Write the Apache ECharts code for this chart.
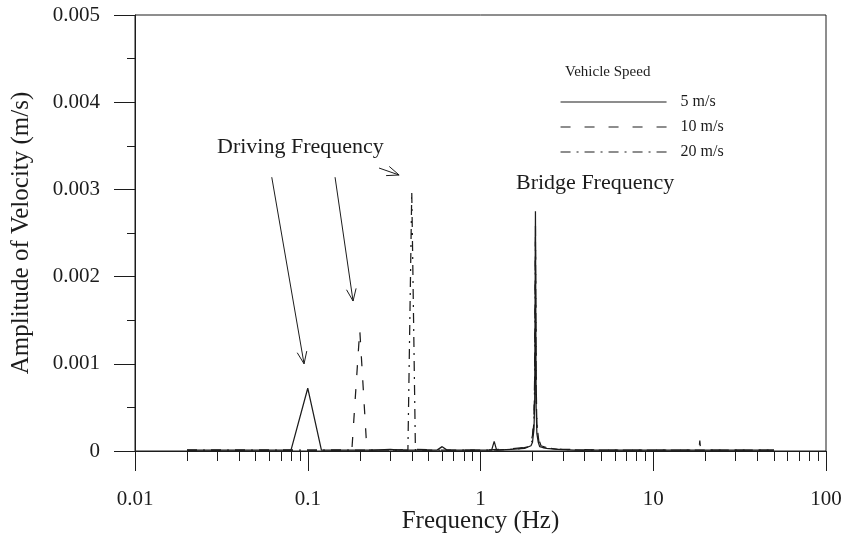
<!DOCTYPE html>
<html><head><meta charset="utf-8">
<script src="https://cdn.jsdelivr.net/npm/echarts@6/dist/echarts.min.js"></script>
<style>html,body{margin:0;padding:0;background:#fff}#c{width:846px;height:536px}</style>
</head><body><div id="c"></div>
<script>
// ---- data ----
const seriesNames = ['5 m/s', '10 m/s', '20 m/s'];
// [frequency (Hz), amplitude of velocity (m/s)]
const speed5 = [[0.02,0.00001],[0.04,0.00001],[0.06,0.00001],[0.08,0.00001],[0.1,0.00072],[0.12,0.00001],[0.14,0.00001],[0.18,0.00001],[0.24,0.00001],[0.3,0.00002],[0.34,0.00001],[0.4,0.00001],[0.5,0.00001],[0.56,0.00001],[0.6,0.00005],[0.64,0.00001],[0.8,0.00001],[1.0,0.00001],[1.16,0.00001],[1.2,0.00011],[1.24,0.00001],[1.5,0.00002],[1.8,0.00003],[1.96,0.00006],[2.0,0.0001],[2.04,0.00025],[2.06,0.0006],[2.08,0.00275],[2.1,0.0005],[2.12,0.0002],[2.16,0.0001],[2.2,0.00005],[2.4,0.00003],[2.8,0.00002],[3.5,0.00001],[5,0.00001],[8,0.00001],[12,0.00001],[20,0.00001],[30,0.00001],[50,0.00001]];
const speed10 = [[0.02,0.00001],[0.06,0.00001],[0.1,0.00001],[0.14,0.00001],[0.18,0.00001],[0.2,0.00139],[0.22,0.00001],[0.3,0.00001],[0.4,0.00002],[0.6,0.00001],[1.0,0.00001],[1.4,0.00002],[1.8,0.00004],[1.96,0.0001],[2.0,0.00018],[2.04,0.0004],[2.06,0.0009],[2.08,0.0026],[2.1,0.0008],[2.12,0.0003],[2.16,0.00015],[2.24,0.00006],[2.5,0.00003],[3,0.00002],[5,0.00001],[10,0.00001],[18.4,0.00001],[18.6,0.00012],[18.8,0.00001],[30,0.00001],[50,0.00001]];
const speed20 = [[0.02,0.00001],[0.1,0.00001],[0.2,0.00001],[0.3,0.00001],[0.38,0.00001],[0.4,0.00297],[0.42,0.00001],[0.5,0.00001],[0.8,0.00001],[1.2,0.00001],[1.6,0.00002],[1.9,0.00005],[2.0,0.00012],[2.04,0.00035],[2.06,0.0008],[2.08,0.0024],[2.1,0.0007],[2.12,0.0003],[2.18,0.0001],[2.3,0.00004],[2.8,0.00002],[4,0.00001],[10,0.00001],[30,0.00001],[50,0.00001]];
const xTickValues = [0.01, 0.1, 1, 10, 100];
const xTickLabels = ['0.01', '0.1', '1', '10', '100'];
const yTickLabels = ['0', '0.001', '0.002', '0.003', '0.004', '0.005'];
const legendTitle = 'Vehicle Speed';
const annotationTexts = ['Driving Frequency', 'Bridge Frequency'];
// arrows in data coordinates: [from, to]
const arrows = [
  [[0.0619, 0.00314], [0.0952, 0.001]],
  [[0.1439, 0.00314], [0.1829, 0.00172]],
  [[0.2587, 0.003245], [0.3379, 0.003165]]
];

// minor ticks 2..9 in each decade from 0.01
const minorTickValues = [];
[0.01, 0.1, 1, 10].forEach(d => { for (let k = 2; k <= 9; k++) minorTickValues.push(+(d * k).toPrecision(6)); });

const FONT = 'Liberation Serif';
const INK = '#1c1c1c';
const dom = document.getElementById('c');
const chart = echarts.init(dom, null, {renderer: 'canvas'});

const dashStyles = ['solid', [10, 14], [10, 6, 2, 6]];
const datasets = [speed5, speed10, speed20];

const option = {
  animation: false,
  backgroundColor: '#fff',
  textStyle: {fontFamily: FONT, color: INK},
  grid: {left: 135, right: 20, top: 15, bottom: 85, show: true, borderColor: INK, borderWidth: 1,
    backgroundColor: 'transparent', containLabel: false, outerBoundsMode: 'none'},
  title: {text: legendTitle, left: 565, top: 65, padding: 0,
    textStyle: {fontFamily: FONT, fontSize: 15, fontWeight: 'normal', color: INK}},
  legend: {orient: 'vertical', left: 560, top: 94, padding: 0, itemWidth: 106, itemHeight: 14, itemGap: 9,
    data: seriesNames, selectedMode: false,
    itemStyle: {color: 'rgba(0,0,0,0)', opacity: 0, borderWidth: 0},
    lineStyle: {width: 1.1},
    textStyle: {fontFamily: FONT, fontSize: 16, color: INK, padding: [0, 0, 0, 9]}},
  xAxis: [{
    type: 'log', logBase: 10, min: 0.01, max: 100,
    name: 'Frequency (Hz)', nameLocation: 'middle', nameGap: 58, nameMoveOverlap: false,
    nameTextStyle: {fontFamily: FONT, fontSize: 25, color: INK},
    axisLine: {show: true, lineStyle: {color: INK, width: 1}},
    axisTick: {show: true, inside: false, length: 20, lineStyle: {color: INK, width: 1}},
    axisLabel: {margin: 38, fontSize: 21, fontFamily: FONT, color: INK,
      formatter: v => { const i = xTickValues.findIndex(t => Math.abs(Math.log10(t) - Math.log10(v)) < 1e-6); return i >= 0 ? xTickLabels[i] : ''; }},
    splitLine: {show: false}, minorTick: {show: false}, minorSplitLine: {show: false}
  }, {
    type: 'log', logBase: 10, min: 0.01, max: 100, position: 'bottom',
    axisLine: {show: false}, axisLabel: {show: false},
    axisTick: {show: true, inside: false, length: 10, customValues: minorTickValues, lineStyle: {color: INK, width: 1}},
    splitLine: {show: false}
  }],
  yAxis: {
    type: 'value', min: 0, max: 0.005, interval: 0.001,
    name: 'Amplitude of Velocity (m/s)', nameLocation: 'middle', nameGap: 101, nameRotate: 90, nameMoveOverlap: false,
    nameTextStyle: {fontFamily: FONT, fontSize: 25, color: INK},
    axisLine: {show: true, lineStyle: {color: INK, width: 1}},
    axisTick: {show: true, inside: false, length: 21, lineStyle: {color: INK, width: 1}},
    minorTick: {show: true, splitNumber: 2, length: 8, lineStyle: {color: INK, width: 1}},
    axisLabel: {margin: 35, fontSize: 21, fontFamily: FONT, color: INK,
      formatter: v => yTickLabels[Math.round(v / 0.001)] || ''},
    splitLine: {show: false}
  },
  series: seriesNames.map((n, i) => ({
    name: n, type: 'line', xAxisIndex: 0, yAxisIndex: 0,
    data: datasets[i], symbol: 'none', showSymbol: false, clip: true,
    itemStyle: {color: INK},
    lineStyle: {color: INK, width: 1.25, type: dashStyles[i]}
  }))
};
chart.setOption(option);

// annotations
const g = [];
const toPx = p => chart.convertToPixel({xAxisIndex: 0, yAxisIndex: 0}, p);
arrows.forEach(([a, b]) => {
  const p0 = toPx(a), p1 = toPx(b);
  const ang = Math.atan2(p1[1] - p0[1], p1[0] - p0[0]);
  const L = 13, h = 0.38;
  const l1 = [p1[0] - L * Math.cos(ang - h), p1[1] - L * Math.sin(ang - h)];
  const l2 = [p1[0] - L * Math.cos(ang + h), p1[1] - L * Math.sin(ang + h)];
  g.push({type: 'line', shape: {x1: p0[0], y1: p0[1], x2: p1[0], y2: p1[1]}, style: {stroke: INK, lineWidth: 1}});
  g.push({type: 'polyline', shape: {points: [l1, p1, l2]}, style: {stroke: INK, lineWidth: 1, fill: null}});
});
g.push({type: 'text', left: 217, top: 136, style: {text: annotationTexts[0], font: '22px "Liberation Serif"', fill: INK}});
g.push({type: 'text', left: 516, top: 172, style: {text: annotationTexts[1], font: '22px "Liberation Serif"', fill: INK}});
chart.setOption({graphic: g});
</script></body></html>
